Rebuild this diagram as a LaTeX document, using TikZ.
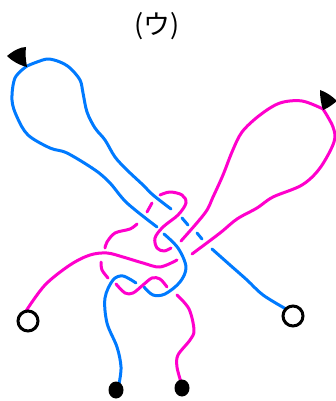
\documentclass[tikz,border=0pt]{standalone}
\usepackage{fontspec}
\newfontfamily\cjk{Noto Sans CJK JP}
\definecolor{strandblue}{RGB}{0,122,255}
\definecolor{strandpink}{RGB}{255,0,204}
\tikzset{
  bluestrand/.style={color=strandblue, line width=3pt, line cap=round, line join=round},
  pinkstrand/.style={color=strandpink, line width=3pt, line cap=round, line join=round},
  openend/.style={circle, draw=black, fill=white, line width=3pt, minimum size=20pt, inner sep=0pt},
  solidend/.style={ellipse, fill=black, minimum width=15pt, minimum height=17pt, inner sep=0pt}
}
\usetikzlibrary{shapes.geometric}
\begin{document}
\begin{tikzpicture}[x=1pt,y=-1pt]
\useasboundingbox (0,0) rectangle (336,401);
\node (title) at (157,26) {\fontsize{27}{30}\selectfont\cjk (ウ)};
\coordinate (tipleft) at (27,66);
\coordinate (tipright) at (323,109);
% blue loop and its two legs
\draw[bluestrand] plot[smooth, tension=.55] coordinates {(tipleft) (37,62) (48,59) (60,62) (70,68) (80,80) (83,93) (87,112) (95,128) (105,140) (115,157) (127,170) (143,185) (153,195) (171,209)};
\draw[bluestrand] plot[smooth, tension=.55] coordinates {(tipleft) (15,78) (12,100) (17,117) (28,135) (50,148) (67,153) (95,170) (110,183) (127,203) (157,227)};
\draw[bluestrand] (182,218) -- (188,225);
\draw[bluestrand] (197,233) -- (202,239);
\draw[bluestrand] plot[smooth, tension=.55] coordinates {(212,249) (230,265) (247,280) (263,295) (286,309)};
\draw[bluestrand] plot[smooth, tension=.55] coordinates {(164,234) (178,248) (186,267) (180,282) (165,294) (153,295) (144,287)};
\draw[bluestrand] plot[smooth, tension=.55] coordinates {(136,283) (123,276) (113,280) (105,298) (107,323) (117,347) (121,367) (119,384)};
% pink loop and its two legs
\draw[pinkstrand] plot[smooth, tension=.55] coordinates {(tipright) (302,101) (280,103) (260,115) (242,132) (232,152) (223,175) (213,197) (205,213) (181,241)};
\draw[pinkstrand] plot[smooth, tension=.55] coordinates {(tipright) (333,127) (334,142) (320,168) (302,185) (273,197) (257,208) (237,219) (220,233) (192,254)};
\draw[pinkstrand] plot[smooth, tension=.55] coordinates {(26,311) (45,285) (70,265) (90,255) (107,253) (123,257) (143,263) (160,267) (177,260)};
\draw[pinkstrand] plot[smooth, tension=.55] coordinates {(160,195) (170,192) (182,195) (186,203) (178,215) (163,227) (155,238) (157,248) (164,251) (171,248)};
\draw[pinkstrand] (152,203) -- (147,212);
\draw[pinkstrand] plot[smooth, tension=.55] coordinates {(137,224) (130,229) (115,233) (107,242) (105,248)};
\draw[pinkstrand] plot[smooth, tension=.55] coordinates {(101,262) (102,270) (108,278)};
\draw[pinkstrand] plot[smooth, tension=.55] coordinates {(116,284) (125,293) (133,293) (143,285) (152,278) (160,279) (167,287)};
\draw[pinkstrand] plot[smooth, tension=.55] coordinates {(177,295) (189,309) (194,330) (190,340) (178,355) (177,367) (181,382)};
% ends
\node[openend] (endpink) at (28,321) {};
\node[openend] (endblue) at (293,316) {};
\node[solidend] (footblue) at (116,390) {};
\node[solidend] (footpink) at (182,388) {};
\fill (7,56) .. controls (13,51) and (20,47) .. (26,47) .. controls (25,54) and (26,61) .. (27,67) .. controls (19,65) and (12,61) .. (7,56) -- cycle;
\fill (320,90) .. controls (326,92) and (332,96) .. (337,101) .. controls (332,105) and (328,108) .. (323,110) .. controls (321,104) and (320,97) .. (320,90) -- cycle;
\end{tikzpicture}
\end{document}
